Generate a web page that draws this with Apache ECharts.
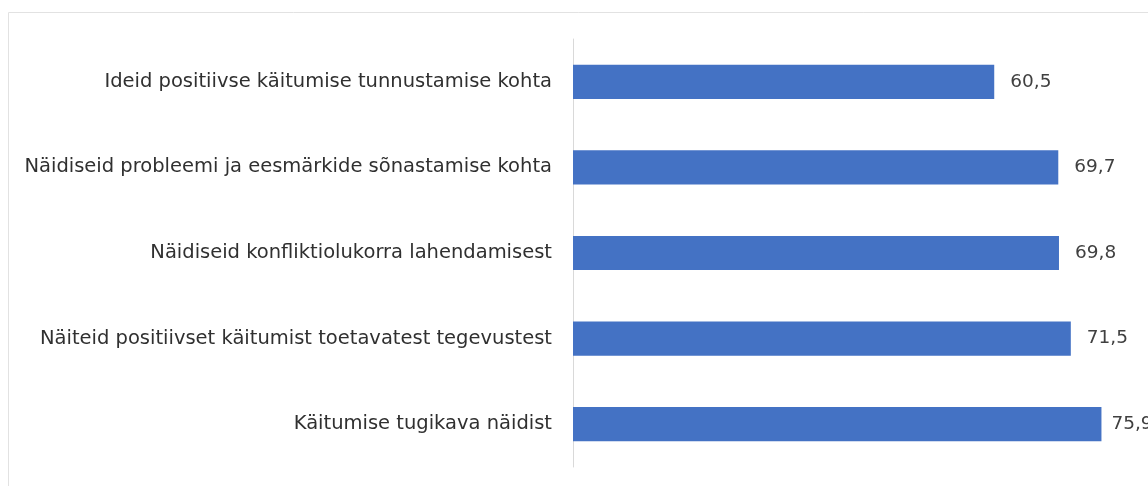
<!DOCTYPE html>
<html>
<head>
<meta charset="utf-8">
<script src="https://cdn.jsdelivr.net/npm/echarts@6/dist/echarts.min.js"></script>
<style>
    html, body { margin: 0; padding: 0; background: #fff; }
    #chartRoot { width: 1148px; height: 486px; }
</style>
</head>
<body>
<div id="chartRoot"></div>
<script>
// kategooriad ülevalt alla
const categories = [
    "Ideid positiivse käitumise tunnustamise kohta",
    "Näidiseid probleemi ja eesmärkide sõnastamise kohta",
    "Näidiseid konfliktiolukorra lahendamisest",
    "Näiteid positiivset käitumist toetavatest tegevustest",
    "Käitumise tugikava näidist"
];
const values = [60.5, 69.7, 69.8, 71.5, 75.9];

// viimane silt on servale lähemale nihutatud
const barData = values.map((v, i) => i === values.length - 1
    ? { value: v, label: { distance: 10 } }
    : v);

const myChart = echarts.init(document.querySelector("#chartRoot"));
const option = {
    animation: false,
    backgroundColor: "#fff",
    graphic: [{
        type: "rect",
        shape: { x: 8.5, y: 12.5, width: 1200, height: 600 },
        style: { fill: "none", stroke: "#e2e2e2", lineWidth: 1 },
        silent: true
    }],
    grid: {
        left: 573,
        right: 18,
        top: 39,
        bottom: 19
    },
    xAxis: {
        type: "value",
        min: 0,
        max: 80,
        show: false
    },
    yAxis: {
        type: "category",
        inverse: true,
        data: categories,
        axisLine: { show: true, lineStyle: { color: "#d9d9d9", width: 1 } },
        axisTick: { show: false },
        axisLabel: {
            color: "#303030",
            fontFamily: "DejaVu Sans",
            fontSize: 19.5,
            margin: 21
        }
    },
    series: [{
        type: "bar",
        data: barData,
        barCategoryGap: "60%",
        itemStyle: { color: "#4472C4" },
        label: {
            show: true,
            position: "right",
            distance: 16,
            color: "#404040",
            fontFamily: "DejaVu Sans",
            fontSize: 18.5,
            formatter: p => String(p.value).replace(".", ",")
        }
    }]
};
myChart.setOption(option, true);
</script>
</body>
</html>
